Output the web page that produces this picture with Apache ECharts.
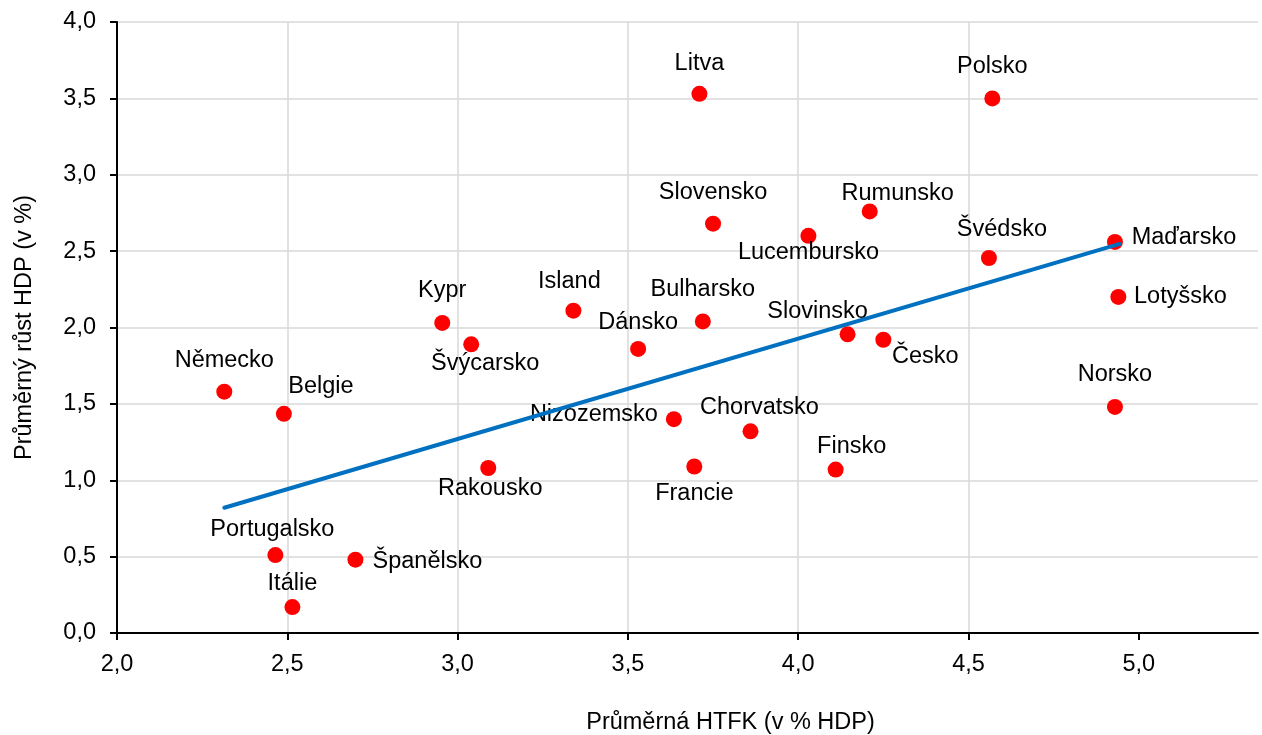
<!DOCTYPE html>
<html>
<head>
<meta charset="utf-8">
<script src="https://cdn.jsdelivr.net/npm/echarts@6/dist/echarts.min.js"></script>
<style>
  html, body { margin: 0; padding: 0; background: #fff; }
  #chart { width: 1262px; height: 735px; }
</style>
</head>
<body>
<div id="chart"></div>
<script>
// země, průměrná HTFK (% HDP), průměrný růst HDP (%)
const countries = ['Litva', 'Polsko', 'Slovensko', 'Rumunsko', 'Lucembursko', 'Švédsko', 'Maďarsko',
  'Lotyšsko', 'Norsko', 'Island', 'Kypr', 'Švýcarsko', 'Dánsko', 'Bulharsko', 'Slovinsko', 'Česko',
  'Německo', 'Belgie', 'Nizozemsko', 'Chorvatsko', 'Finsko', 'Francie', 'Rakousko', 'Portugalsko',
  'Španělsko', 'Itálie'];
const htfk = [3.71, 4.57, 3.75, 4.21, 4.03, 4.56, 4.93,
  4.94, 4.93, 3.34, 2.955, 3.04, 3.53, 3.72, 4.145, 4.25,
  2.315, 2.49, 3.635, 3.86, 4.11, 3.695, 3.09, 2.465,
  2.70, 2.515];
const gdpGrowth = [3.53, 3.50, 2.68, 2.76, 2.60, 2.455, 2.56,
  2.20, 1.48, 2.11, 2.03, 1.89, 1.86, 2.04, 1.955, 1.92,
  1.58, 1.435, 1.40, 1.32, 1.07, 1.09, 1.08, 0.51,
  0.48, 0.17];

// lineární trend (koncové body)
const trendX = [2.315, 4.944];
const trendY = [0.82, 2.547];

const xTicks = [2.0, 2.5, 3.0, 3.5, 4.0, 4.5, 5.0];

// umístění popisků vůči bodu [dx, dy]
const labelOffset = {
  'Litva': [0, -30], 'Polsko': [0, -32], 'Slovensko': [0, -31], 'Rumunsko': [28, -18],
  'Lucembursko': [0, 17], 'Švédsko': [13, -28], 'Maďarsko': [69, -4], 'Lotyšsko': [62, 0],
  'Norsko': [0, -32], 'Island': [-4, -29], 'Kypr': [0, -32], 'Švýcarsko': [14, 19],
  'Dánsko': [0, -26], 'Bulharsko': [0, -32], 'Slovinsko': [-30, -23], 'Česko': [42, 17],
  'Německo': [0, -31], 'Belgie': [37, -27], 'Nizozemsko': [-80, -5], 'Chorvatsko': [9, -24],
  'Finsko': [16, -23], 'Francie': [0, 27], 'Rakousko': [2, 20], 'Portugalsko': [-3, -26],
  'Španělsko': [72, 2], 'Itálie': [0, -24]
};

const font = "'Liberation Sans', Arial, sans-serif";
const fs = 23.5;
const fmt = v => v.toFixed(1).replace('.', ',');

const points = countries.map((name, i) => ({
  name: name,
  value: [htfk[i], gdpGrowth[i]],
  label: { offset: labelOffset[name] }
}));

const myChart = echarts.init(document.getElementById('chart'));
myChart.setOption({
  animation: false,
  grid: { left: 117, right: 4, top: 22, bottom: 102, containLabel: false, outerBoundsMode: 'none' },
  xAxis: {
    type: 'value',
    min: 2, max: 5.35, interval: 0.5,
    name: 'Průměrná HTFK (v % HDP)',
    nameLocation: 'middle',
    nameGap: 78,
    nameTextStyle: { fontFamily: font, fontSize: fs, color: '#000', padding: [0, 0, 0, 86] },
    axisLine: { onZero: false, lineStyle: { color: '#000', width: 2 } },
    axisTick: { show: true, length: 7, customValues: xTicks, lineStyle: { color: '#000', width: 2 } },
    axisLabel: { customValues: xTicks, formatter: fmt, fontFamily: font, fontSize: fs, color: '#000', margin: 20 },
    splitLine: { show: true, showMaxLine: false, lineStyle: { color: '#d9d9d9', width: 1.5 } }
  },
  yAxis: {
    type: 'value',
    min: 0, max: 4, interval: 0.5,
    name: 'Průměrný růst HDP (v %)',
    nameLocation: 'middle',
    nameGap: 80,
    nameTextStyle: { fontFamily: font, fontSize: fs, color: '#000' },
    axisLine: { show: true, lineStyle: { color: '#000', width: 2 } },
    axisTick: { show: true, length: 7, lineStyle: { color: '#000', width: 2 } },
    axisLabel: { formatter: fmt, fontFamily: font, fontSize: fs, color: '#000', margin: 21 },
    splitLine: { show: true, lineStyle: { color: '#d9d9d9', width: 1.5 } }
  },
  series: [
    {
      type: 'scatter',
      symbol: 'circle',
      symbolSize: 16,
      itemStyle: { color: '#ff0000', opacity: 1 },
      label: {
        show: true,
        position: 'inside',
        formatter: '{b}',
        fontFamily: font,
        fontSize: fs,
        color: '#000'
      },
      data: points,
      z: 3
    },
    {
      type: 'line',
      data: trendX.map((x, i) => [x, trendY[i]]),
      showSymbol: false,
      lineStyle: { color: '#0070c0', width: 4, cap: 'round' },
      z: 4
    }
  ]
});
</script>
</body>
</html>
